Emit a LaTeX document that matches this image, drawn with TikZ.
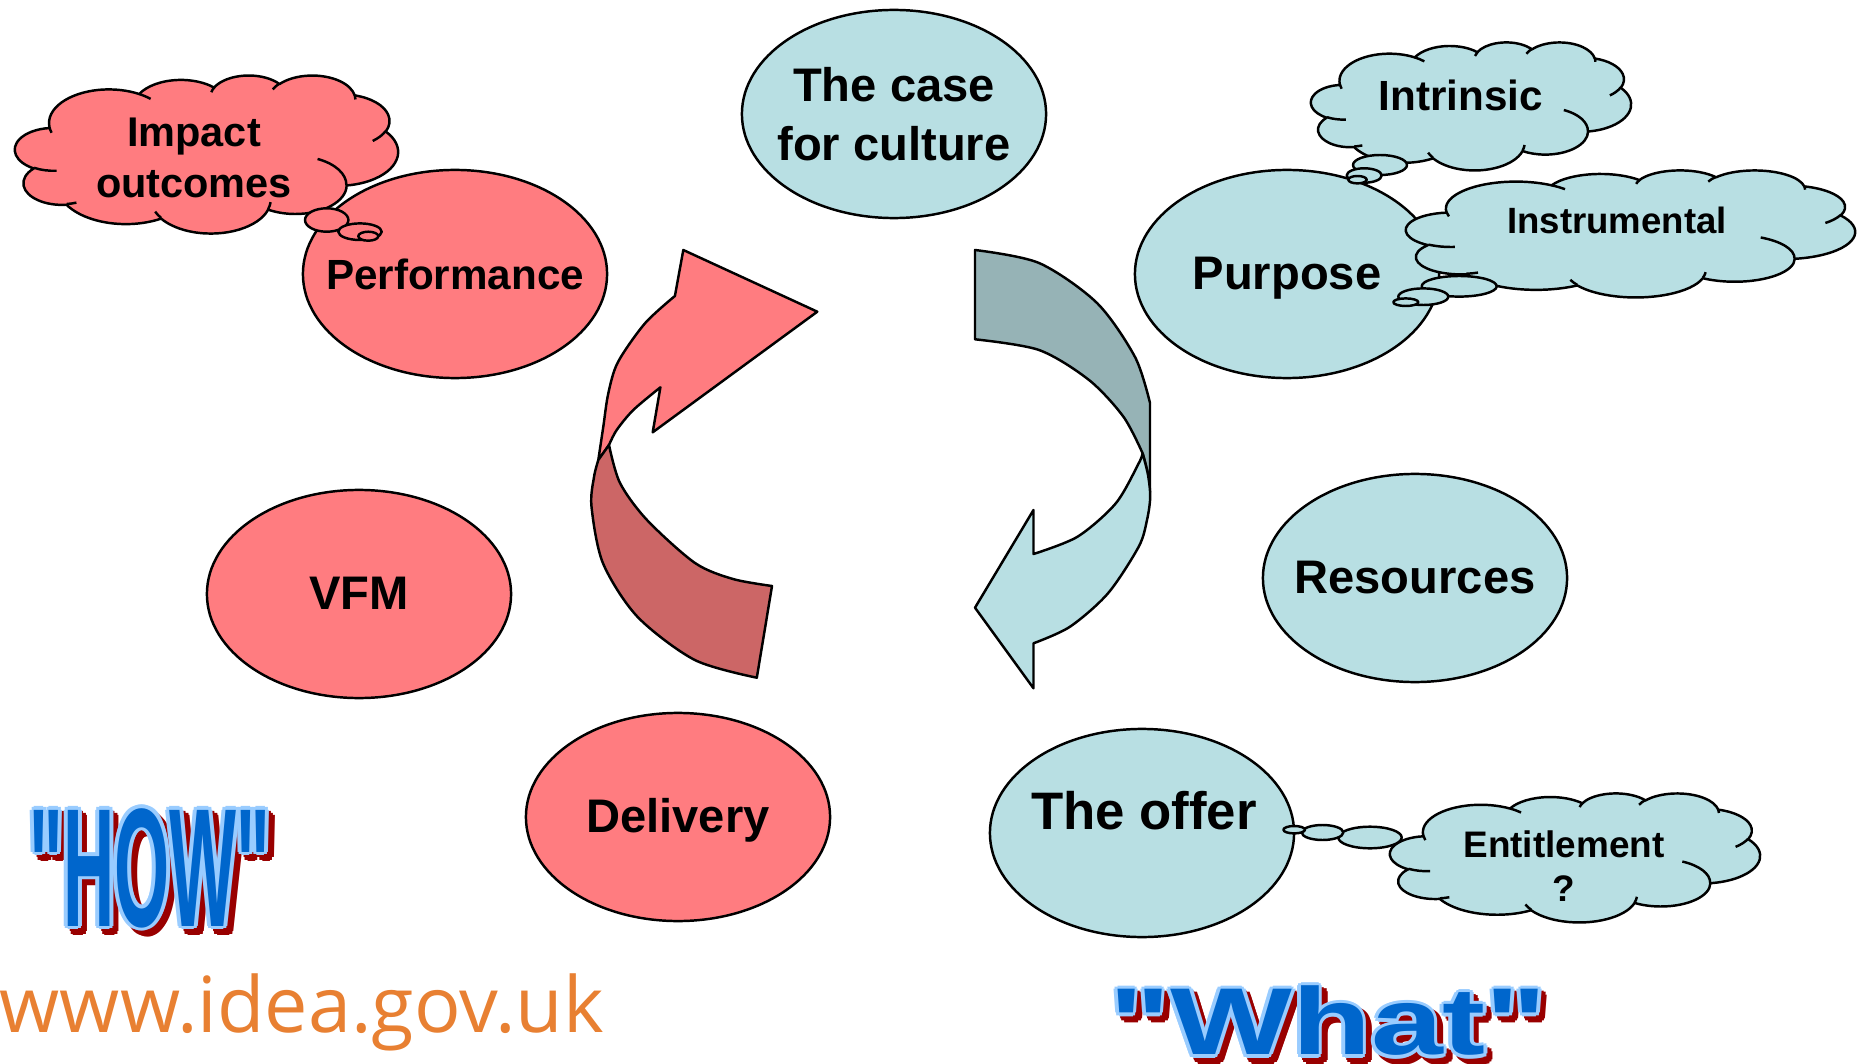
\documentclass[tikz,border=0pt]{standalone}
\usepackage{fontspec}
\setmainfont{Liberation Sans}
\newfontfamily\artfont{Liberation Sans}[Ligatures=TeXOff]
\newfontfamily\webfont{Open Sans}
\usetikzlibrary{shapes.geometric}

\definecolor{salmon}{RGB}{255,124,128}
\definecolor{salmondark}{RGB}{204,102,102}
\definecolor{aqua}{RGB}{184,223,227}
\definecolor{aquadark}{RGB}{150,179,182}
\definecolor{artfill}{RGB}{0,102,204}
\definecolor{artline}{RGB}{153,204,255}
\definecolor{artshadow}{RGB}{153,0,0}
\definecolor{weborange}{RGB}{232,128,50}

\newcommand{\howword}{\scalebox{0.42}[1]{"HOW"}}
\newcommand{\whatword}{\scalebox{1.36}[1]{"What"}}

% cloud outline in a 432 x 432 frame, plus the little inner creases
\tikzset{pics/pptcloud/.style={code={
    \filldraw[fill=#1, draw=black, line width=0.7pt] (39,143.7)
        arc[start angle=-187.74, end angle=-59.62, x radius=67.53, y radius=91.90]
        arc[start angle=-152.03, end angle=-45.46, x radius=53.33, y radius=72.67]
        arc[start angle=-153.50, end angle=-37.31, x radius=43.65, y radius=59.45]
        arc[start angle=-139.71, end angle=-10.21, x radius=48.57, y radius=65.95]
        arc[start angle=-74.77, end angle=23.21, x radius=53.33, y radius=72.73]
        arc[start angle=-37.52, end angle=81.86, x radius=67.75, y radius=92.20]
        arc[start angle=0.46, end angle=121.98, x radius=57.85, y radius=78.67]
        arc[start angle=16.85, end angle=146.22, x radius=67.52, y radius=92.15]
        arc[start angle=58.99, end angle=150.18, x radius=77.20, y radius=105.43]
        arc[start angle=-276.69, end angle=-136.89, x radius=43.60, y radius=59.18]
        arc[start angle=-239.64, end angle=-95.89, x radius=43.45, y radius=59.45]
        -- cycle;
    \draw[line width=0.7pt]
        (46.93,261.77) arc[start angle=85.55, end angle=120.36, x radius=43.45, y radius=59.45]
        (69.28,348.99) arc[start angle=68.24, end angle=83.31, x radius=43.60, y radius=59.18]
        (164.78,390.90) arc[start angle=146.22, end angle=158.47, x radius=67.52, y radius=92.15]
        (288.27,347.51) arc[start angle=4.74, end angle=16.85, x radius=67.52, y radius=92.15]
        (341.29,229.54) arc[start angle=-64.03, end angle=0.46, x radius=57.85, y radius=78.67]
        (417.98,153.54) arc[start angle=23.21, end angle=49.66, x radius=53.33, y radius=72.73]
        (383.24,54.26) arc[start angle=-10.21, end angle=0.82, x radius=48.57, y radius=65.95]
        (290.78,39.52) arc[start angle=-156.28, end angle=-139.71, x radius=48.57, y radius=65.95]
        (221.41,47.20) arc[start angle=-167.73, end angle=-153.50, x radius=43.65, y radius=59.45]
        (140.00,51.92) arc[start angle=-59.62, end angle=-45.74, x radius=67.53, y radius=91.90]
        (41.27,157.89) arc[start angle=163.19, end angle=172.25, x radius=67.53, y radius=91.90];
}}}

\begin{document}
\begin{tikzpicture}[x=0.01cm, y=-0.01cm, line join=round,
    ell/.style={ellipse, draw=black, line width=0.7pt, minimum width=3.04cm, minimum height=2.08cm, inner sep=-1cm, align=center, text height=0.9em, text depth=0pt, font=\fontsize{13.4}{16.4}\selectfont\bfseries},
    txt/.style={inner sep=0pt, align=center, font=\fontsize{12}{14.7}\selectfont\bfseries},
    bubble/.style={draw=black, line width=0.7pt},
    ribbon/.style={draw=black, line width=0.7pt},
    howart/.style={inner sep=0pt, font=\artfont\fontsize{48}{48}\selectfont\bfseries},
    whatart/.style={inner sep=0pt, font=\artfont\fontsize{27}{27}\selectfont\bfseries}]

    \useasboundingbox (0,0) rectangle (1864,1064);

    % the six ellipses
    \node[ell, fill=aqua, text height={}, text depth={}, font=\fontsize{13.4}{16.6}\selectfont\bfseries] (case) at (894,114) {The case\\for culture};
    \node[ell, fill=salmon, font=\fontsize{12}{14}\selectfont\bfseries] (perf) at (455,274) {Performance};
    \node[ell, fill=aqua] (purpose) at (1287,274) {Purpose};
    \node[ell, fill=salmon] (vfm) at (359,594) {VFM};
    \node[ell, fill=aqua] (resources) at (1415,578) {Resources};
    \node[ell, fill=salmon] (delivery) at (678,817) {Delivery};
    \node[ell, fill=aqua] (offer) at (1142,833) {};
    \node[txt, font=\fontsize{15}{18}\selectfont\bfseries] (offertext) at (1144,811) {The offer};

    % red arrow, front and back
    \filldraw[ribbon, fill=salmon] (683.3,250) -- (817.3,311.7) -- (652.7,432.3) -- (660.4,387.3)
        -- plot[smooth] coordinates {(660.4,387.3) (633.3,410) (616.7,430) (609,445)}
        -- (598.3,460)
        -- plot[smooth] coordinates {(598.3,460) (603.3,426.7) (608.3,393.3) (618,362) (645,323.3) (674.9,296)}
        -- cycle;
    \filldraw[ribbon, fill=salmondark]
        plot[smooth] coordinates {(609,445) (620,483) (647,520) (695,563) (733,579) (772,586)}
        -- (756.8,677.7)
        -- plot[smooth] coordinates {(756.8,677.7) (694.8,660) (637.4,616.7) (603,563.3) (591.5,506.7) (594,477) (598.3,460)}
        -- cycle;

    % blue arrow, back and front
    \filldraw[ribbon, fill=aquadark]
        plot[smooth] coordinates {(975,250) (1039,263) (1097,303) (1135,357) (1150,403)}
        -- (1150,492)
        -- plot[smooth] coordinates {(1150,492) (1147,470) (1142.6,453.3)}
        -- plot[smooth] coordinates {(1142.6,453.3) (1123.4,416.7) (1089,380) (1039,350) (975,339.3)}
        -- cycle;
    \filldraw[ribbon, fill=aqua]
        plot[smooth] coordinates {(1142.6,453.3) (1148,475) (1150.2,497) (1147,520) (1138.7,546.7) (1108,593.3) (1070,626.7) (1033.5,643.3)}
        -- (1033.5,688.3) -- (975,607.7) -- (1033.5,510) -- (1033.5,554)
        -- plot[smooth] coordinates {(1033.5,554) (1077.5,536.7) (1115.8,503.3) (1138.7,463.3) (1142.6,453.3)}
        -- cycle;

    % thought clouds
    \pic[xscale=383/432, yscale=158/432] (impact) at (15,75) {pptcloud=salmon};
    \pic[xscale=320/432, yscale=128/432] (intrinsic) at (1311,42) {pptcloud=aqua};
    \pic[xscale=449/432, yscale=127/432] (instrumental) at (1406,170) {pptcloud=aqua};
    \pic[xscale=370/432, yscale=129/432] (entitlement) at (1390,793) {pptcloud=aqua};

    % bubbles leading to the clouds
    \draw[bubble, fill=salmon] (326.7,220) ellipse (21.7 and 11.7);
    \draw[bubble, fill=salmon] (360,231.7) ellipse (21.7 and 8.3);
    \draw[bubble, fill=salmon] (368.3,236.2) ellipse (10 and 4.5);
    \draw[bubble, fill=aqua] (1380,165) ellipse (27 and 10);
    \draw[bubble, fill=aqua] (1364.2,175.5) ellipse (17.5 and 7.2);
    \draw[bubble, fill=aqua] (1357.5,179.7) ellipse (9.2 and 3.7);
    \draw[bubble, fill=aqua] (1459.2,286.3) ellipse (37.5 and 10.3);
    \draw[bubble, fill=aqua] (1423.3,296.7) ellipse (25 and 8.3);
    \draw[bubble, fill=aqua] (1405.8,302.2) ellipse (12.5 and 3.8);
    \draw[bubble, fill=aqua] (1370,837.5) ellipse (31.7 and 10.8);
    \draw[bubble, fill=aqua] (1322.5,832.5) ellipse (20.8 and 7.5);
    \draw[bubble, fill=aqua] (1294.2,829.7) ellipse (10.8 and 3.7);

    \node[txt, font=\fontsize{11.8}{14.7}\selectfont\bfseries] (impacttext) at (194,158) {Impact\\outcomes};
    \node[txt] (intrinsictext) at (1461,95) {Intrinsic};
    \node[txt, font=\fontsize{10.4}{12}\selectfont\bfseries] (instrumentaltext) at (1617,220) {Instrumental};
    \node[txt, font=\fontsize{10.5}{12.5}\selectfont\bfseries] (entitlementtext) at (1564,866) {Entitlement\\?};

    % word art: shadow, light outline, then the blue letters
    \foreach \i in {0,...,7} {
        \node[howart, text=artshadow, xshift={1.6pt+1.1pt*cos(\i*45)}, yshift={-1.6pt+1.1pt*sin(\i*45)}] (howshadow\i) at (150,868) {\howword};
        \node[whatart, text=artshadow, xshift={1.5pt+1.1pt*cos(\i*45)}, yshift={-1.5pt+1.1pt*sin(\i*45)}] (whatshadow\i) at (1328,1021) {\whatword};
    }
    \foreach \i in {0,...,7} {
        \node[howart, text=artline, xshift={1.1pt*cos(\i*45)}, yshift={1.1pt*sin(\i*45)}] (howline\i) at (150,868) {\howword};
        \node[whatart, text=artline, xshift={1.1pt*cos(\i*45)}, yshift={1.1pt*sin(\i*45)}] (whatline\i) at (1328,1021) {\whatword};
    }
    \node[howart, text=artfill] (how) at (150,868) {\howword};
    \node[whatart, text=artfill] (what) at (1328,1021) {\whatword};

    \node[anchor=base west, inner sep=0pt, text=weborange, font=\webfont\fontsize{22}{22}\selectfont] (web) at (-1,1032) {www.idea.gov.uk};
\end{tikzpicture}
\end{document}
